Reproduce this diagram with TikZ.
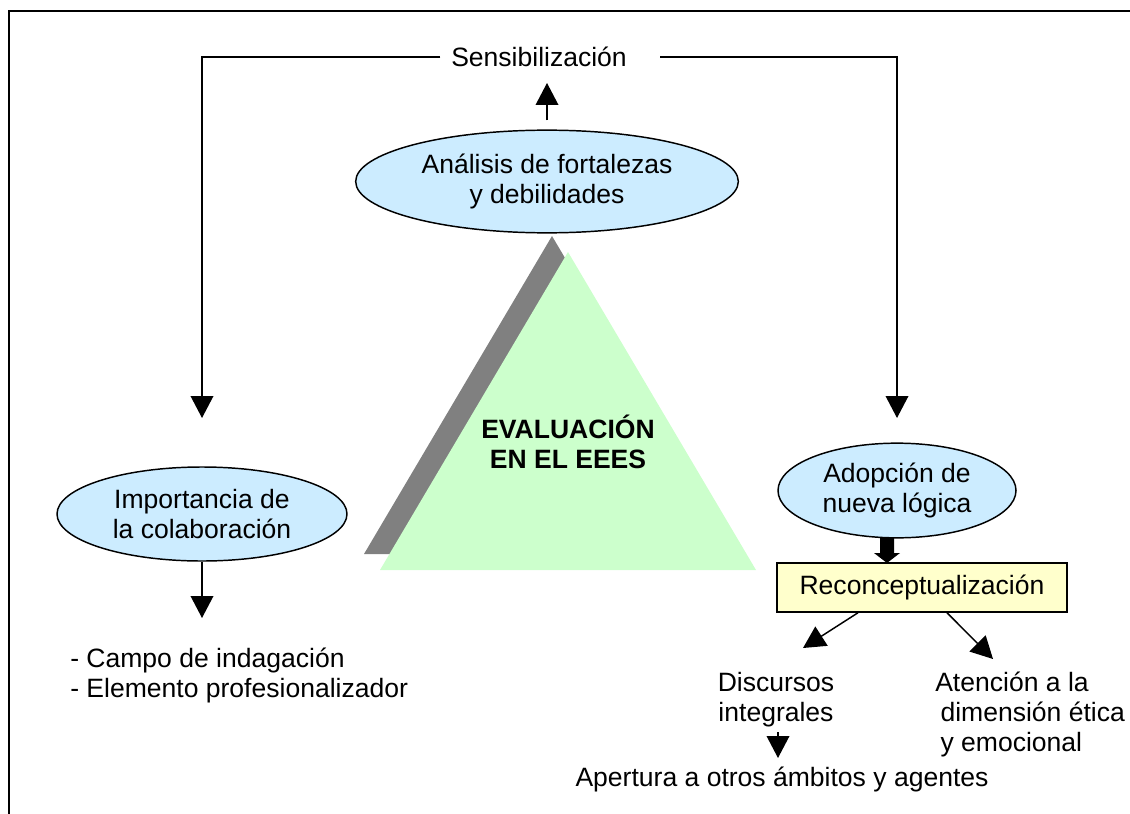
\documentclass[tikz,border=0pt]{standalone}
\usepackage{fontspec}
\setmainfont{Liberation Sans}
\usetikzlibrary{shapes.geometric,arrows.meta,calc}
\definecolor{ellblue}{HTML}{CCECFF}
\definecolor{trigreen}{HTML}{CCFFCC}
\definecolor{shadowgray}{HTML}{808080}
\definecolor{recyellow}{HTML}{FFFFCC}
\newcommand{\dfont}{\fontsize{19.9}{22.5}\selectfont}
\tikzset{
  txt/.style={font=\dfont, inner sep=0pt, align=center},
  txtleft/.style={font=\dfont, inner sep=0pt, align=left},
  oval/.style={ellipse, draw=black, line width=1.1pt, fill=ellblue, inner sep=0pt, font=\dfont, align=center},
  recbox/.style={rectangle, draw=black, line width=1.1pt, fill=recyellow, inner sep=0pt, font=\dfont, align=center},
  conn/.style={line width=1.1pt},
  arr/.style={conn, -{Triangle[length=16.5pt,width=17pt]}},
  framestyle/.style={line width=1.9pt}
}
\begin{document}
\begin{tikzpicture}[x=0.75pt,y=-0.75pt]
\useasboundingbox (0,0) rectangle (1130,813);
% outer frame
\draw[framestyle] (9,814) -- (9,11) -- (1131,11);

% triangle with shadow
\fill[shadowgray] (552,236) -- (364,554) -- (740,554) -- cycle;
\fill[trigreen] (568,252) -- (380,570) -- (756,570) -- cycle;
\node[txt, font=\dfont\bfseries] (eval) at (568,442) {EVALUACIÓN\\EN EL EEES};

% top
\node[txt] (sens) at (539,57) {Sensibilización};
\node[oval, minimum width=287pt, minimum height=77pt] (ana) at (547,181.5) {Análisis de fortalezas\\y debilidades};
\coordinate (sensup) at (547,83);
\draw[arr] ([yshift=6.75pt]ana.north) -- (sensup);

\coordinate (lt) at (202,418);
\coordinate (rt) at (897,418);
\draw[arr] ([xshift=-8pt]sens.west) -| (lt);
\draw[arr] ([xshift=25pt]sens.east) -| (rt);

% left branch
\node[oval, minimum width=217.5pt, minimum height=70.5pt] (imp) at (202,514) {Importancia de\\la colaboración};
\coordinate (camp) at (202,618);
\draw[arr] (imp.south) -- (camp);
\node[txtleft, anchor=west] (list) at (70,675) {- Campo de indagación\\- Elemento profesionalizador};

% right branch
\node[oval, minimum width=178.5pt, minimum height=71pt] (ado) at (897,490.5) {Adopción de\\nueva lógica};
\node[recbox, minimum width=217.5pt, minimum height=36.75pt] (rec) at (922,587.5) {Reconceptualización};
% thick block arrow
\fill[black] (880,538) -- (894,538) -- (894,553) -- (900,553) -- (887,563) -- (874,553) -- (880,553) -- cycle;

\coordinate (dtip) at (803,648);
\coordinate (atip) at (993,659);
\draw[arr] ([xshift=-48pt]rec.south) -- (dtip);
\draw[arr] ([xshift=18.75pt]rec.south) -- (atip);

\node[txt] (disc) at (776,699.5) {Discursos\\integrales};
\node[txtleft, anchor=west] (aten) at (935,714.5) {Atención a la\\\hspace*{0.2em}dimensión ética\\\hspace*{0.2em}y emocional};

\coordinate (dtop) at (778,732);
\coordinate (dbot) at (778,758);
\draw[arr] (dtop) -- (dbot);
\node[txt] (aper) at (782,779) {Apertura a otros ámbitos y agentes};
\end{tikzpicture}
\end{document}
